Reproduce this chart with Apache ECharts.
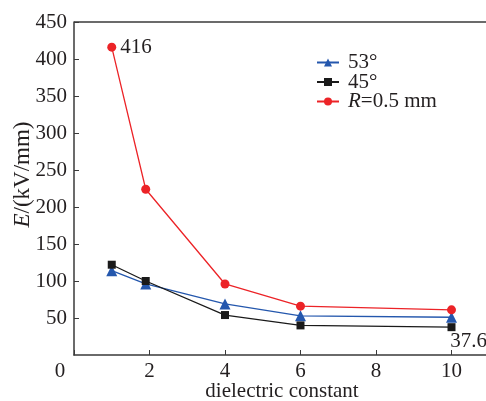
<!DOCTYPE html>
<html>
<head>
<meta charset="utf-8">
<script src="https://cdn.jsdelivr.net/npm/echarts@6/dist/echarts.min.js"></script>
<style>
  html, body { margin: 0; padding: 0; background: #fff; }
  #chart { width: 486px; height: 401px; }
</style>
</head>
<body>
<div id="chart"></div>
<script>
// dielectric constant on x
const xValues = [1, 1.9, 4, 6, 10]
const angle53 = [114, 96, 69, 53, 51]
const angle45 = [122, 100, 54, 40, 37.6]
const radius05 = [416, 224, 96, 66, 61]
const seriesNames = ['53°', '45°', 'R=0.5 mm']

const font = 'Liberation Serif, Times New Roman, serif'
const fs = 21
const ink = '#231f20'
const axisColor = '#3a3a3a'

const chart = echarts.init(document.getElementById('chart'))

function pairs(ys) {
  return ys.map((y, i) => [xValues[i], y])
}

chart.setOption({
  animation: false,
  // plot runs past the right edge, as in the cropped original
  grid: { left: 74, right: -41, top: 22, bottom: 46, outerBoundsMode: 'none', containLabel: false },
  legend: {
    orient: 'vertical',
    left: 311,
    top: 47,
    itemWidth: 22,
    itemHeight: 10,
    itemGap: -1.5,
    data: seriesNames,
    formatter: (name) => name === 'R=0.5 mm' ? '{i|R}=0.5 mm' : name,
    textStyle: {
      fontFamily: font, fontSize: fs, color: ink,
      padding: [0, 0, 0, 4],
      rich: { i: { fontFamily: font, fontSize: fs, fontStyle: 'italic', color: ink } }
    }
  },
  xAxis: {
    type: 'value',
    min: 0,
    max: 12,
    interval: 2,
    name: 'dielectric constant',
    nameLocation: 'middle',
    nameGap: 26,
    nameMoveOverlap: false,
    nameTextStyle: { fontFamily: font, fontSize: fs, color: ink, padding: [0, 37, 0, 0] },
    axisLine: { lineStyle: { color: axisColor, width: 1.5 } },
    axisTick: { inside: true, length: 5, lineStyle: { color: axisColor } },
    axisLabel: {
      margin: 6,
      fontFamily: font, fontSize: fs, color: ink,
      formatter: (v) => v === 0 ? '{z|0}' : String(v),
      rich: { z: { fontFamily: font, fontSize: fs, color: ink, padding: [0, 28, 0, 0] } }
    },
    splitLine: { show: false }
  },
  yAxis: {
    type: 'value',
    min: 0,
    max: 450,
    interval: 50,
    name: '{i|E}/(kV/mm)',
    nameLocation: 'middle',
    nameGap: 40,
    nameMoveOverlap: false,
    nameTextStyle: {
      fontFamily: font, fontSize: 23, color: ink,
      padding: [0, 0, 0, 28],
      rich: { i: { fontFamily: font, fontSize: 23, fontStyle: 'italic', color: ink } }
    },
    axisLine: { show: true, lineStyle: { color: axisColor, width: 1.5 } },
    axisTick: { show: true, inside: true, length: 5, lineStyle: { color: axisColor } },
    axisLabel: {
      margin: 7,
      fontFamily: font, fontSize: fs, color: ink,
      showMinLabel: false
    },
    splitLine: { show: false }
  },
  graphic: [{
    type: 'line',
    shape: { x1: 74, y1: 22, x2: 486, y2: 22 },
    style: { stroke: axisColor, lineWidth: 1.5 }
  }],
  series: [
    {
      name: seriesNames[0],
      type: 'line',
      data: pairs(angle53),
      symbol: 'triangle',
      symbolSize: 11,
      color: '#2457ad',
      lineStyle: { width: 1.3 }
    },
    {
      name: seriesNames[1],
      type: 'line',
      data: pairs(angle45),
      symbol: 'rect',
      symbolSize: 8,
      color: '#1a1a1a',
      lineStyle: { width: 1.3 },
      label: {
        show: true,
        position: 'bottom',
        distance: 0,
        offset: [17, 0],
        fontFamily: font, fontSize: fs, color: ink,
        formatter: (p) => p.dataIndex === angle45.length - 1 ? String(p.value[1]) : ''
      }
    },
    {
      name: seriesNames[2],
      type: 'line',
      data: pairs(radius05),
      symbol: 'circle',
      symbolSize: 9,
      color: '#ec2327',
      lineStyle: { width: 1.3 },
      label: {
        show: true,
        position: 'right',
        distance: 4,
        fontFamily: font, fontSize: fs, color: ink,
        formatter: (p) => p.dataIndex === 0 ? String(p.value[1]) : ''
      }
    }
  ]
})
</script>
</body>
</html>
